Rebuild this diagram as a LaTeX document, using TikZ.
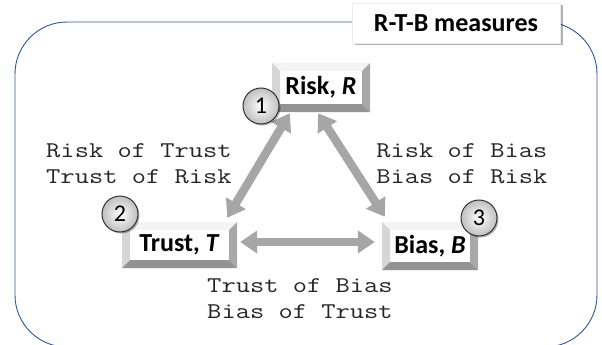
\documentclass[tikz,border=0pt]{standalone}
\usepackage{fontspec}
\setmainfont{Carlito}
\usetikzlibrary{arrows.meta,shadows}
\definecolor{framecol}{HTML}{2F5597}
\definecolor{arrowcol}{HTML}{A6A6A6}
\definecolor{bvtop}{HTML}{F4F4F4}
\definecolor{bvleft}{HTML}{D6D6D6}
\definecolor{bvright}{HTML}{A8A8A8}
\definecolor{bvbottom}{HTML}{939393}
\def\bevw{8pt}
\begin{document}
\begin{tikzpicture}[x=1pt,y=1pt,
  frame/.style={draw=framecol, line width=0.9pt, rounded corners=52pt},
  titlebox/.style={fill=white, draw=gray!15, inner sep=0pt, minimum width=208pt, minimum height=40pt,
    font=\fontsize{26}{30}\selectfont\bfseries,
    drop shadow={shadow xshift=2.5pt, shadow yshift=-2.5pt, fill=black, opacity=0.3}},
  bevelbox/.style={fill=white, inner sep=0pt, font=\fontsize{26}{30}\selectfont\bfseries,
    path picture={
      \fill[bvtop] (path picture bounding box.north west) -- (path picture bounding box.north east)
        -- ([shift={(-\bevw,-\bevw)}]path picture bounding box.north east)
        -- ([shift={(\bevw,-\bevw)}]path picture bounding box.north west) -- cycle;
      \fill[bvleft] (path picture bounding box.north west)
        -- ([shift={(\bevw,-\bevw)}]path picture bounding box.north west)
        -- ([shift={(\bevw,\bevw)}]path picture bounding box.south west)
        -- (path picture bounding box.south west) -- cycle;
      \fill[bvright] (path picture bounding box.north east)
        -- ([shift={(-\bevw,-\bevw)}]path picture bounding box.north east)
        -- ([shift={(-\bevw,\bevw)}]path picture bounding box.south east)
        -- (path picture bounding box.south east) -- cycle;
      \fill[bvbottom] (path picture bounding box.south west)
        -- ([shift={(\bevw,\bevw)}]path picture bounding box.south west)
        -- ([shift={(-\bevw,\bevw)}]path picture bounding box.south east)
        -- (path picture bounding box.south east) -- cycle;
    }},
  numball/.style={circle, minimum size=36pt, inner sep=0pt, draw=gray!40!black, line width=1pt,
    inner color=white, outer color=gray!50, font=\fontsize{24}{28}\selectfont,
    drop shadow={shadow xshift=1.5pt, shadow yshift=-1.5pt, fill=black, opacity=0.3}},
  dblarrow/.style={draw=arrowcol, line width=8.5pt,
    {Triangle[width=22pt,length=17pt]}-{Triangle[width=22pt,length=17pt]}},
  measure/.style={font=\ttfamily\fontsize{22.5}{26}\selectfont, align=left, inner sep=0pt,
    text=black!85, xscale=1.23, transform shape}
]
\useasboundingbox (0,0) rectangle (602,-345);
\draw[frame] (15,-22) rectangle (597,-347);
\node[titlebox] (title) at (456,-23) {R-T-B measures};

\node[bevelbox, minimum width=98pt, minimum height=49pt] (R) at (321,-87.5) {Risk, \textit{R}};
\node[bevelbox, minimum width=115pt, minimum height=46pt] (T) at (179.5,-245) {Trust, \textit{T}};
\node[bevelbox, minimum width=96pt, minimum height=48pt] (B) at (430,-246) {Bias, \textit{B}};

\draw[dblarrow] ([shift={(18pt,-1pt)}]R.south west) -- ([shift={(-10pt,4pt)}]T.north east);
\draw[dblarrow] ([shift={(-52pt,-1pt)}]R.south east) -- ([shift={(3pt,5pt)}]B.north west);
\draw[dblarrow] ([shift={(3pt,3pt)}]T.east) -- ([shift={(-7pt,4pt)}]B.west);

\node[numball] (c1) at (261,-106) {1};
\node[numball] (c2) at (120,-214) {2};
\node[numball] (c3) at (479,-218) {3};

\node[measure, anchor=base west] (lRT) at (46,-183) {Risk of Trust\\Trust of Risk};
\node[measure, anchor=base west] (lRB) at (376,-183) {Risk of Bias\\Bias of Risk};
\node[measure, anchor=base west] (lTB) at (207,-318) {Trust of Bias\\Bias of Trust};
\end{tikzpicture}
\end{document}
